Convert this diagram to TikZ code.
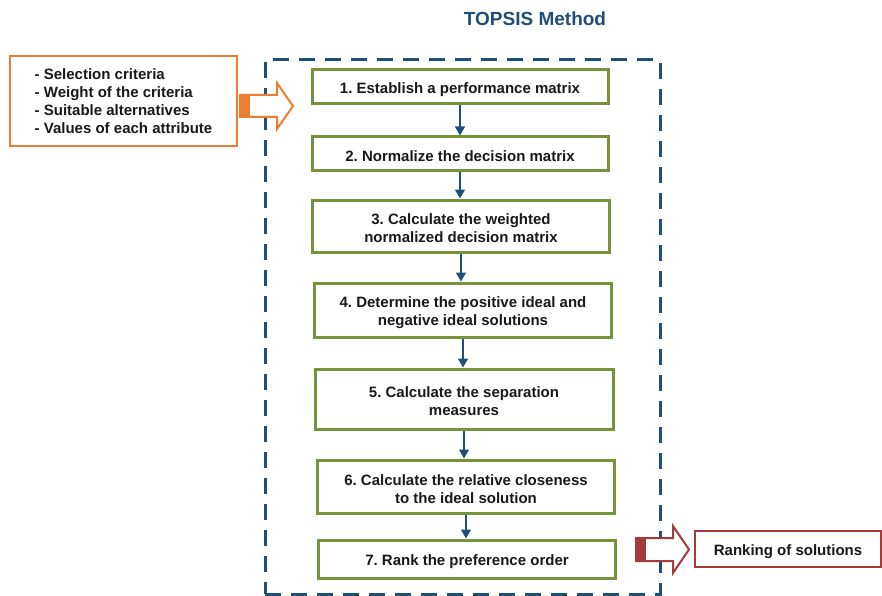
\documentclass[tikz,border=0pt]{standalone}
\usepackage{fontspec}
\setmainfont{Liberation Sans}
\usetikzlibrary{arrows.meta}
\definecolor{stepgreen}{HTML}{77933C}
\definecolor{navy}{HTML}{1F4E79}
\definecolor{inorange}{HTML}{ED7D31}
\definecolor{outred}{HTML}{A33B3B}
\frenchspacing
% taller first line, so box labels sit a little lower
\newcommand\topstrut{\rule{0pt}{16pt}}
\begin{document}
\begin{tikzpicture}[x=1pt,y=-1pt,
  txt/.style={font=\bfseries\fontsize{15}{18}\selectfont, text=black!90},
  stepbox/.style={txt, draw=stepgreen, line width=3pt, fill=white, align=center, inner sep=0pt},
  flow/.style={draw=navy, line width=1.5pt, -{Triangle[length=9pt,width=10pt]}},
  frame/.style={draw=navy, line width=3pt, dash pattern=on 16pt off 10pt, inner sep=0pt}
]
\useasboundingbox (0,0) rectangle (882,596);

% title
\node[font=\bfseries\fontsize{19}{22}\selectfont, text=navy] (title) at (535,19) {TOPSIS Method};

% dashed frame around the steps
\node[frame, minimum width=395pt, minimum height=534pt] (frame) at (462.5,327) {};

% steps
\node[stepbox, minimum width=296pt, minimum height=34pt] (s1) at (460,87) {\topstrut 1. Establish a performance matrix};
\node[stepbox, minimum width=296pt, minimum height=33pt] (s2) at (460,153.5) {\topstrut 2. Normalize the decision matrix};
\node[stepbox, minimum width=297pt, minimum height=52pt] (s3) at (461,226) {\topstrut 3. Calculate the weighted\\normalized decision matrix};
\node[stepbox, minimum width=297pt, minimum height=54pt] (s4) at (463,310) {\topstrut 4. Determine the positive ideal and\\negative ideal solutions};
\node[stepbox, minimum width=298pt, minimum height=60pt] (s5) at (464,399) {\topstrut 5. Calculate the separation\\measures};
\node[stepbox, minimum width=297pt, minimum height=53pt] (s6) at (466,486.5) {\topstrut 6. Calculate the relative closeness\\to the ideal solution};
\node[stepbox, minimum width=297pt, minimum height=38pt] (s7) at (467,559) {\topstrut 7. Rank the preference order};

\foreach \a/\b in {s1/s2,s2/s3,s3/s4,s4/s5,s5/s6,s6/s7}
  \draw[flow] (\a.south) -- (\a.south |- \b.north);

% inputs
\node[txt, draw=inorange, line width=2.5pt, fill=white, align=left, minimum width=227pt, minimum height=90pt] (inputs) at (123.5,101)
  {- Selection criteria\\- Weight of the criteria\\- Suitable alternatives\\- Values of each attribute};

% orange block arrow into the frame
\coordinate (ia) at (240,106);
\draw[inorange, line width=2pt, fill=white, line join=miter]
  (ia) ++(0,-11) -- ++(37,0) -- ++(0,-12) -- ++(16,23) -- ++(-16,23) -- ++(0,-12) -- ++(-37,0) -- cycle;
\fill[inorange] (ia) ++(-1,-12) rectangle ++(11,24);

% output
\node[txt, draw=outred, line width=2pt, fill=white, inner sep=0pt, minimum width=186pt, minimum height=36pt] (result) at (788,549) {\topstrut Ranking of solutions};

% red block arrow out of the frame
\coordinate (oa) at (636,549.5);
\draw[outred, line width=2pt, fill=white, line join=miter]
  (oa) ++(0,-11.5) -- ++(37,0) -- ++(0,-12) -- ++(16,23.5) -- ++(-16,23.5) -- ++(0,-12) -- ++(-37,0) -- cycle;
\fill[outred] (oa) ++(-1,-12.5) rectangle ++(11,25);
\end{tikzpicture}
\end{document}
